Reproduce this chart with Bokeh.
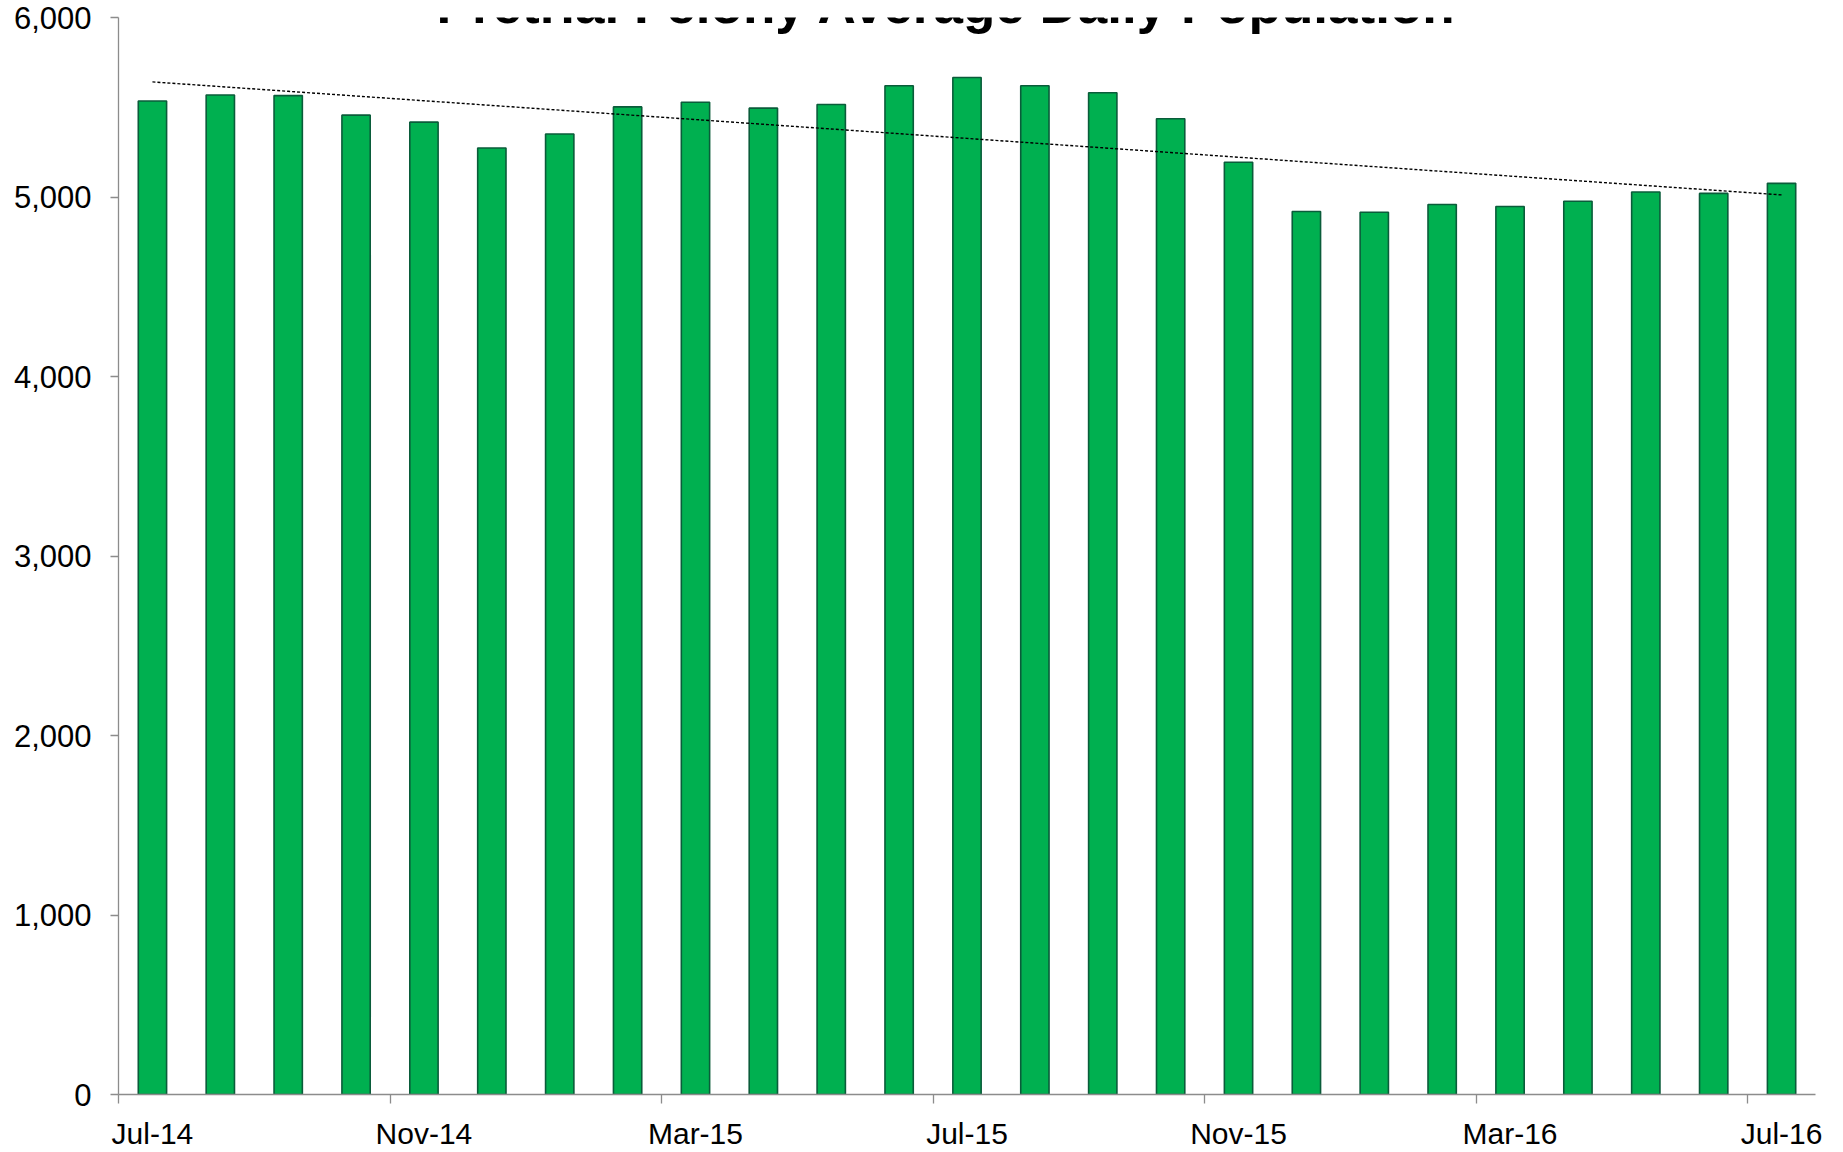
import numpy as np
from bokeh.plotting import figure
from bokeh.models import Range1d, FixedTicker, NumeralTickFormatter, Label, ColumnDataSource
from bokeh.embed import file_html
from bokeh.resources import INLINE

title_text = "Pretrial Felony Average Daily Population"
months = ["Jul-14", "Aug-14", "Sep-14", "Oct-14", "Nov-14", "Dec-14",
          "Jan-15", "Feb-15", "Mar-15", "Apr-15", "May-15", "Jun-15",
          "Jul-15", "Aug-15", "Sep-15", "Oct-15", "Nov-15", "Dec-15",
          "Jan-16", "Feb-16", "Mar-16", "Apr-16", "May-16", "Jun-16", "Jul-16"]
population = [5535, 5568, 5565, 5456, 5417, 5273, 5351, 5502, 5528, 5495,
              5515, 5620, 5666, 5620, 5581, 5436, 5194, 4919, 4915, 4958,
              4947, 4976, 5028, 5020, 5076]
y_ticks = [0, 1000, 2000, 3000, 4000, 5000, 6000]
label_every = 4

n = len(months)
xc = [i + 0.5 for i in range(n)]
src = ColumnDataSource(dict(x=xc, top=population))

# linear trendline (least squares), as in the original chart
coef = np.polyfit(np.arange(n), np.array(population, dtype=float), 1)
trend_y = list(np.polyval(coef, np.arange(n)))

p = figure(width=1843, height=1152, output_backend="svg", toolbar_location=None,
           x_range=Range1d(0, n), y_range=Range1d(0, 6000),
           min_border_left=118, min_border_right=28, min_border_top=17, min_border_bottom=58)
p.background_fill_color = "white"
p.border_fill_color = "white"
p.outline_line_color = None
p.grid.visible = False

p.vbar(x="x", top="top", width=0.417, bottom=0, source=src,
       fill_color="#00B050", line_color="#0A5C3A", line_width=1.6)
p.line(xc, trend_y, line_color="black", line_width=1.4, line_dash="3 2")

gray = "#8C8C8C"
# y axis
ya = p.yaxis[0]
ya.ticker = FixedTicker(ticks=y_ticks, minor_ticks=[])
ya.formatter = NumeralTickFormatter(format="0,0")
ya.axis_line_color = gray
ya.axis_line_width = 1.3
ya.major_tick_line_color = gray
ya.major_tick_line_width = 1.3
ya.major_tick_out = 8
ya.major_tick_in = 0
ya.minor_tick_line_color = None
ya.major_label_text_font = "Liberation Sans"
ya.major_label_text_font_size = "31px"
ya.major_label_text_color = "black"
ya.major_label_standoff = 19

# x axis: labels at month centres, tick marks at category boundaries
xa = p.xaxis[0]
label_pos = [xc[i] for i in range(0, n, label_every)]
boundaries = [float(i) for i in range(0, n, label_every)]
xa.ticker = FixedTicker(ticks=label_pos, minor_ticks=boundaries)
xa.major_label_overrides = {xc[i]: months[i] for i in range(0, n, label_every)}
xa.axis_line_color = gray
xa.axis_line_width = 1.3
xa.major_tick_line_color = None
xa.major_tick_out = 0
xa.major_tick_in = 0
xa.minor_tick_line_color = gray
xa.minor_tick_line_width = 1.3
xa.minor_tick_out = 9
xa.minor_tick_in = 0
xa.major_label_text_font = "Liberation Sans"
xa.major_label_text_font_size = "30px"
xa.major_label_text_color = "black"
xa.major_label_standoff = 13

# title, partly cut off at the top like in the original
p.add_layout(Label(x=12.2, y=6075, text=title_text, text_font="Liberation Sans",
                   text_font_style="bold", text_font_size="53px", text_align="center",
                   text_baseline="alphabetic", text_color="black"))

open("out.html", "w").write(file_html(p, INLINE))
